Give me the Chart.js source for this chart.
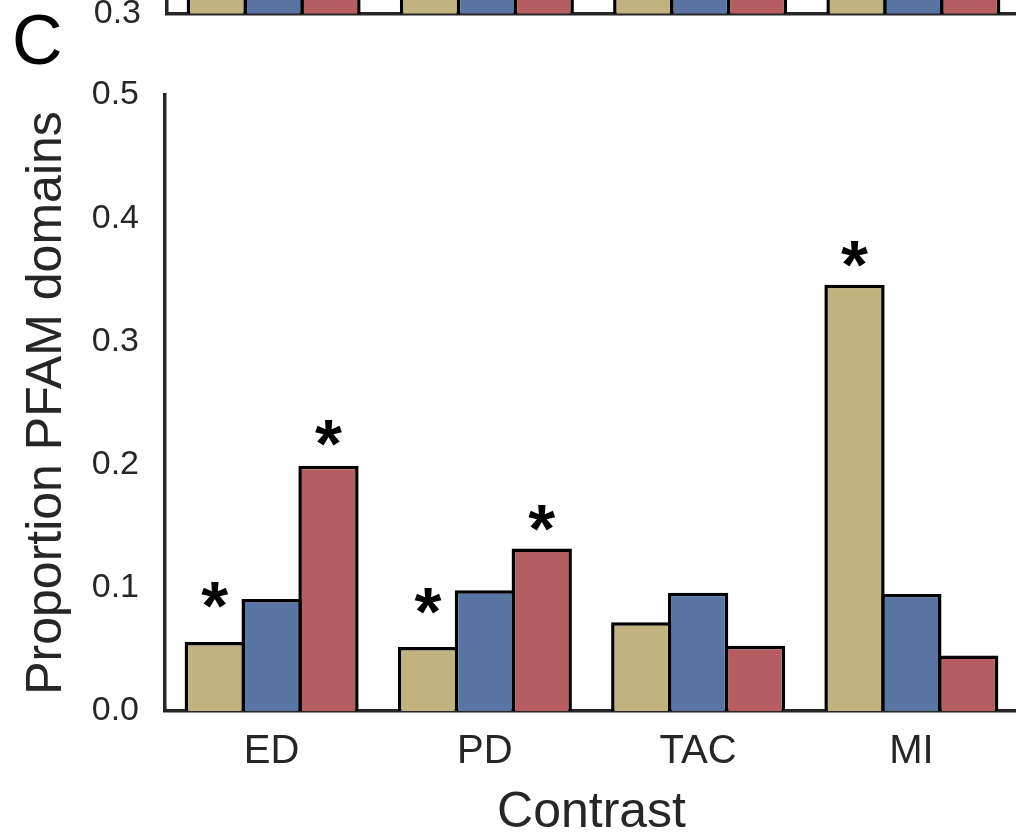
<!DOCTYPE html>
<html>
<head>
<meta charset="utf-8">
<script src="https://cdn.jsdelivr.net/npm/chart.js@4.4.0/dist/chart.umd.min.js"></script>
<style>
html, body { margin:0; padding:0; background:#ffffff; overflow:hidden; width:1016px; height:835px; }
#wrapB { position:absolute; left:0; top:-170px; width:1020px; height:230px; }
#wrapC { position:absolute; left:0; top:0; width:1020px; height:850px; }
canvas { display:block; }
</style>
</head>
<body>
<div id="wrapB"><canvas id="chartB" width="1020" height="230"></canvas></div>
<div id="wrapC"><canvas id="chartC" width="1020" height="850"></canvas></div>
<script>
// ---- data (panel C) ----
const categories = ['ED', 'PD', 'TAC', 'MI'];
const seriesLabels = ['Series 1', 'Series 2', 'Series 3'];
const tanValues  = [0.056, 0.052, 0.072, 0.346];
const blueValues = [0.091, 0.098, 0.096, 0.095];
const redValues  = [0.199, 0.132, 0.053, 0.045];
// significance star heights (data units), null = no star
const tanStars  = [0.094, 0.089, null, 0.371];
const blueStars = [null, null, null, null];
const redStars  = [0.226, 0.157, null, null];
const yTicksC = [0.0, 0.1, 0.2, 0.3, 0.4, 0.5];
const panelLetter = 'C';
const xTitle = 'Contrast';
const yTitle = 'Proportion PFAM domains';

// ---- data (panel B, only its bottom edge is visible) ----
const tanValuesB  = [0.52, 0.48, 0.55, 0.60];
const blueValuesB = [0.50, 0.51, 0.49, 0.53];
const redValuesB  = [0.57, 0.54, 0.50, 0.47];
const yTicksB = [0.3, 0.4, 0.5, 0.6, 0.7];

// ---- styling ----
const FAMILY = "'Liberation Sans', Arial, sans-serif";
const TEXT = '#262626';
const TAN = '#C1B37F', BLUE = '#5975A4', RED = '#B55D60';

function ds(label, data, color) {
  return { label, data, backgroundColor: color, borderColor: '#000000', borderWidth: 3.5,
           categoryPercentage: 0.8, barPercentage: 1.06 };
}

const starPlugin = {
  id: 'stars',
  afterDatasetsDraw(chart) {
    const ctx = chart.ctx;
    const ys = chart.scales.y;
    const starSets = [tanStars, blueStars, redStars];
    ctx.save();
    ctx.textAlign = 'left';
    ctx.textBaseline = 'alphabetic';
    ctx.font = 'bold 100px ' + FAMILY;
    let m = ctx.measureText('*');
    const w100 = m.actualBoundingBoxRight + m.actualBoundingBoxLeft;
    const size = 100 * 27 / w100;
    ctx.font = 'bold ' + size + 'px ' + FAMILY;
    m = ctx.measureText('*');
    const midY = (m.actualBoundingBoxAscent - m.actualBoundingBoxDescent) / 2;
    const midX = (m.actualBoundingBoxRight - m.actualBoundingBoxLeft) / 2;
    ctx.fillStyle = '#000000';
    starSets.forEach((arr, di) => {
      const meta = chart.getDatasetMeta(di);
      arr.forEach((v, i) => {
        if (v === null) return;
        const bar = meta.data[i];
        ctx.fillText('*', bar.x - midX, ys.getPixelForValue(v) + midY);
      });
    });
    ctx.restore();
  }
};

const letterPlugin = {
  id: 'panelLetter',
  afterDraw(chart) {
    const ctx = chart.ctx;
    ctx.save();
    ctx.font = '70px ' + FAMILY;
    ctx.fillStyle = '#000000';
    ctx.textAlign = 'left';
    ctx.textBaseline = 'alphabetic';
    ctx.fillText(panelLetter, 12, 64);
    ctx.restore();
  }
};

// ---- panel B (cut off at top) ----
new Chart(document.getElementById('chartB'), {
  type: 'bar',
  data: {
    labels: categories,
    datasets: [ds(seriesLabels[0], tanValuesB, TAN), ds(seriesLabels[1], blueValuesB, BLUE), ds(seriesLabels[2], redValuesB, RED)]
  },
  options: {
    responsive: false, animation: false,
    layout: { padding: { left: 0, right: 0, top: 0, bottom: 32 } },
    plugins: { legend: { display: false }, tooltip: { enabled: false } },
    scales: {
      x: {
        z: 1,
        grid: { display: false, drawTicks: false },
        border: { display: true, color: TEXT, width: 3.5 },
        ticks: { display: false },
        afterFit(s) { s.height = 0; }
      },
      y: {
        min: 0.3, max: 0.7,
        grid: { display: false, drawTicks: false },
        border: { display: true, color: TEXT, width: 3.5 },
        ticks: { font: { family: FAMILY, size: 34 }, color: TEXT, padding: 26, callback: v => Number(v).toFixed(1) },
        afterBuildTicks(s) { s.ticks = yTicksB.map(v => ({ value: v })); },
        afterFit(s) { s.width = 167; }
      }
    }
  }
});

// ---- panel C ----
new Chart(document.getElementById('chartC'), {
  type: 'bar',
  data: {
    labels: categories,
    datasets: [ds(seriesLabels[0], tanValues, TAN), ds(seriesLabels[1], blueValues, BLUE), ds(seriesLabels[2], redValues, RED)]
  },
  options: {
    responsive: false, animation: false,
    layout: { padding: { left: 0, right: 2, top: 95, bottom: 0 } },
    plugins: { legend: { display: false }, tooltip: { enabled: false } },
    scales: {
      x: {
        z: 1,
        grid: { display: false, drawTicks: false },
        border: { display: true, color: TEXT, width: 3.5 },
        ticks: { font: { family: FAMILY, size: 40 }, color: TEXT, padding: 17 },
        title: { display: true, text: xTitle, font: { family: FAMILY, size: 50 }, color: TEXT, padding: { top: 0, bottom: 7 } },
        afterFit(s) { s.height = 139; }
      },
      y: {
        min: 0, max: 0.5,
        grid: { display: false, drawTicks: false },
        border: { display: true, color: TEXT, width: 3.5 },
        ticks: { font: { family: FAMILY, size: 34 }, color: TEXT, padding: 26, callback: v => Number(v).toFixed(1) },
        afterBuildTicks(s) { s.ticks = yTicksC.map(v => ({ value: v })); },
        title: { display: true, text: yTitle, font: { family: FAMILY, size: 50 }, color: TEXT, padding: { top: 17, bottom: 0 } },
        afterFit(s) { s.width = 165; }
      }
    }
  },
  plugins: [starPlugin, letterPlugin]
});
</script>
</body>
</html>
